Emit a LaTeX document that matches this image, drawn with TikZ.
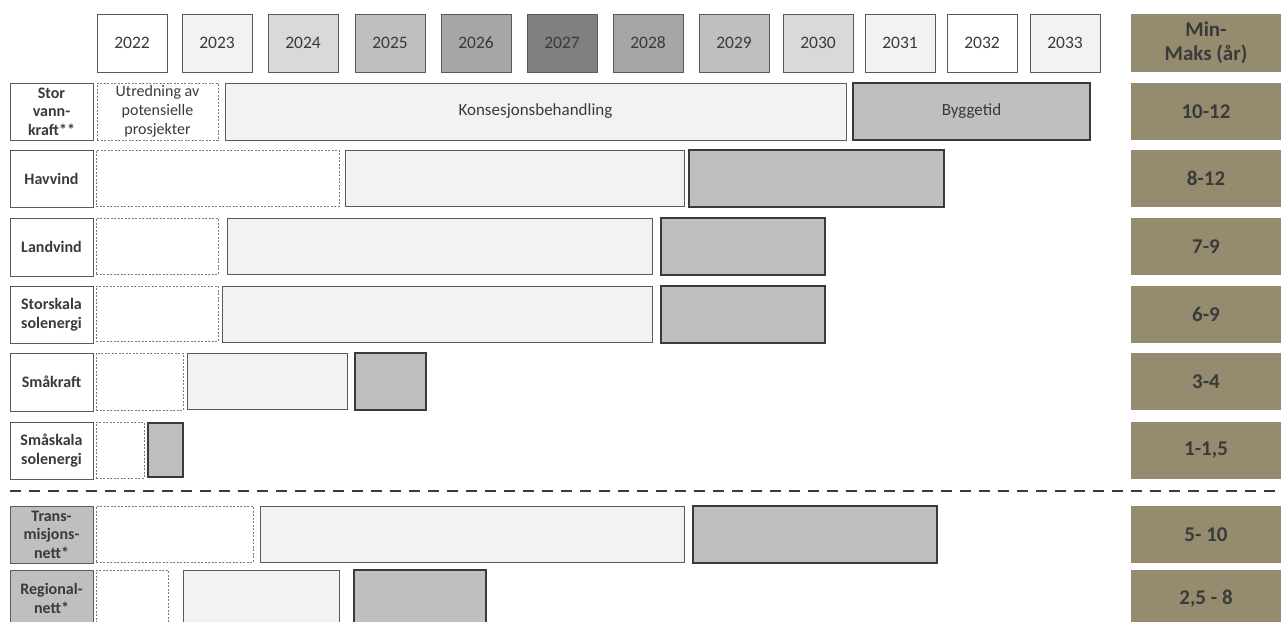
\documentclass[tikz,border=0pt]{standalone}
\usepackage{fontspec}
\setmainfont{Carlito}
\usepackage{xcolor}
\usepackage{tikz}
\definecolor{testo}{HTML}{3A3A3A}
\definecolor{bordo}{HTML}{595959}
\definecolor{grigioA}{HTML}{F2F2F2}
\definecolor{grigioB}{HTML}{D9D9D9}
\definecolor{grigioC}{HTML}{BFBFBF}
\definecolor{grigioD}{HTML}{A6A6A6}
\definecolor{grigioE}{HTML}{808080}
\definecolor{oliva}{HTML}{958B6E}
\tikzset{
  cella/.style={draw=bordo, line width=1pt, inner sep=0pt, outer sep=0pt,
    anchor=north west, text=testo, align=center},
  dim/.style 2 args={minimum width=#1pt, minimum height=#2pt},
  anno/.style={cella, dim={70}{58}, font=\fontsize{17.5}{20}\selectfont},
  etichetta/.style={cella, fill=white, font=\bfseries\fontsize{16}{18.5}\selectfont},
  rete/.style={etichetta, fill=grigioC},
  utredning/.style={cella, draw=bordo!80, dash pattern=on 2pt off 1.5pt,
    font=\fontsize{16}{19}\selectfont},
  konsesjon/.style={cella, fill=grigioA, font=\fontsize{17}{20}\selectfont},
  bygg/.style={cella, fill=grigioC, draw=testo, line width=1.3pt,
    font=\fontsize{17}{20}\selectfont},
  minmaks/.style={cella, draw=none, fill=oliva, dim={150}{57},
    font=\bfseries\fontsize{21}{24}\selectfont},
  separatore/.style={draw=testo, line width=2pt, dash pattern=on 11pt off 8pt}
}
\begin{document}
\begin{tikzpicture}[x=1pt, y=-1pt]
        \useasboundingbox (0,0) rectangle (1281,621);
        % Riga anni
        \foreach \anno/\xa/\col in {2022/97/white, 2023/182/grigioA, 2024/268/grigioB,
            2025/355/grigioC, 2026/441/grigioD, 2027/527/grigioE, 2028/613/grigioD,
            2029/699/grigioC, 2030/783/grigioB, 2031/865/grigioA, 2032/947/white,
            2033/1030/grigioA} {
                \node[anno, fill=\col] (y\anno) at (\xa,14) {\anno};
            }
        % Colonna min-maks
        \node[minmaks, dim={150}{58}] (mm) at (1131,14) {Min-\\Maks (år)};
        \foreach \nome/\ya/\val in {sv/83/10-12, hv/150/8-12, lv/218/7-9, ss/286/6-9,
            sk/353/3-4, sm/422/{1-1,5}, tn/506/5- 10, rn/570/{2,5 - 8}} {
                \node[minmaks] (mm\nome) at (1131,\ya) {\val};
            }
        % Stor vannkraft
        \node[etichetta, dim={83}{57}] (sv) at (10,83) {Stor\\vann-\\kraft**};
        \node[utredning, dim={121}{57}] (sv1) at (97,83) {Utredning av\\potensielle\\prosjekter};
        \node[konsesjon, dim={621}{57}] (sv2) at (225,83) {Konsesjonsbehandling};
        \node[bygg, dim={237}{57}] (sv3) at (853,83) {Byggetid};
        % Havvind
        \node[etichetta, dim={83}{57}] (hv) at (10,150) {Havvind};
        \node[utredning, dim={243}{56}] (hv1) at (96,150) {};
        \node[konsesjon, dim={339}{56}] (hv2) at (345,150) {};
        \node[bygg, dim={255}{57}] (hv3) at (689,150) {};
        % Landvind
        \node[etichetta, dim={83}{58}] (lv) at (10,218) {Landvind};
        \node[utredning, dim={122}{56}] (lv1) at (96,218) {};
        \node[konsesjon, dim={425}{56}] (lv2) at (227,218) {};
        \node[bygg, dim={164}{57}] (lv3) at (661,218) {};
        % Storskala solenergi
        \node[etichetta, dim={83}{57}] (ss) at (10,286) {Storskala\\solenergi};
        \node[utredning, dim={122}{55}] (ss1) at (96,286) {};
        \node[konsesjon, dim={430}{56}] (ss2) at (222,286) {};
        \node[bygg, dim={164}{57}] (ss3) at (661,286) {};
        % Småkraft
        \node[etichetta, dim={83}{58}] (sk) at (10,353) {Småkraft};
        \node[utredning, dim={87}{57}] (sk1) at (96,353) {};
        \node[konsesjon, dim={160}{56}] (sk2) at (187,353) {};
        \node[bygg, dim={71}{57}] (sk3) at (355,353) {};
        % Småskala solenergi
        \node[etichetta, dim={83}{57}] (sm) at (10,422) {Småskala\\solenergi};
        \node[utredning, dim={48}{56}] (sm1) at (96,422) {};
        \node[bygg, dim={35}{54}] (sm3) at (148,423) {};
        % Skillelinje nett
        \coordinate (sepA) at (10,491);
        \coordinate (sepB) at (1281,491);
        \draw[separatore] (sepA) -- (sepB);
        % Transmisjonsnett
        \node[rete, dim={83}{57}] (tn) at (10,506) {Trans-\\misjons-\\nett*};
        \node[utredning, dim={157}{56}] (tn1) at (96,506) {};
        \node[konsesjon, dim={424}{56}] (tn2) at (260,506) {};
        \node[bygg, dim={244}{57}] (tn3) at (693,506) {};
        % Regionalnett
        \node[rete, dim={83}{57}] (rn) at (10,570) {Regional-\\nett*};
        \node[utredning, dim={72}{57}] (rn1) at (96,570) {};
        \node[konsesjon, dim={156}{57}] (rn2) at (183,570) {};
        \node[bygg, dim={132}{57}] (rn3) at (354,570) {};
    \end{tikzpicture}
\end{document}
